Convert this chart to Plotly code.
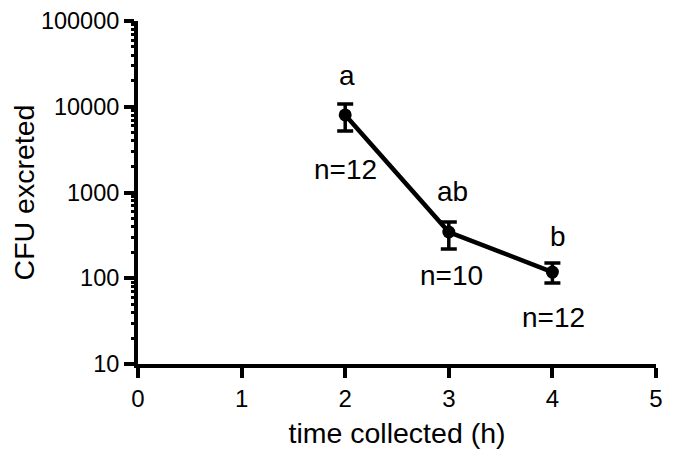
import math
import plotly.graph_objects as go

# Data
time_h = [2, 3, 4]
cfu_mean = [8020, 346, 118]
cfu_upper = [10770, 453, 151]
cfu_lower = [5210, 219, 88]
sig_labels = ["a", "ab", "b"]
n_labels = ["n=12", "n=10", "n=12"]
y_tick_vals = [10, 100, 1000, 10000, 100000]
y_tick_text = ["10", "100", "1000", "10000", "100000"]
x_tick_vals = [0, 1, 2, 3, 4, 5]
y_minor_vals = [d * 10 ** k for k in range(1, 5) for d in range(2, 10)]

err_plus = [u - m for u, m in zip(cfu_upper, cfu_mean)]
err_minus = [m - l for m, l in zip(cfu_mean, cfu_lower)]

FONT = "Liberation Sans, Arial, Helvetica, sans-serif"

fig = go.Figure()
# invisible helper trace on the overlay axis that carries the minor ticks
fig.add_trace(go.Scatter(
    x=time_h, y=cfu_mean, yaxis="y2", mode="markers",
    marker=dict(opacity=0), hoverinfo="skip", showlegend=False,
))
fig.add_trace(go.Scatter(
    x=time_h, y=cfu_mean, mode="lines+markers",
    line=dict(color="black", width=4.5),
    marker=dict(color="black", size=13),
    error_y=dict(type="data", symmetric=False, array=err_plus, arrayminus=err_minus,
                 color="black", thickness=3.5, width=8),
    showlegend=False,
))

# significance letters above the upper caps, n labels below the lower caps (pixel offsets)
sig_shift = [(2, 28), (4, 30), (6, 26)]
n_shift = [(0, -38), (3, -26), (1, -34)]
for i, x in enumerate(time_h):
    fig.add_annotation(x=x, y=math.log10(cfu_upper[i]), xref="x", yref="y", text=sig_labels[i],
                       showarrow=False, yanchor="middle", xanchor="center",
                       xshift=sig_shift[i][0], yshift=sig_shift[i][1],
                       font=dict(family=FONT, size=28, color="black"))
    fig.add_annotation(x=x, y=math.log10(cfu_lower[i]), xref="x", yref="y", text=n_labels[i],
                       showarrow=False, yanchor="middle", xanchor="center",
                       xshift=n_shift[i][0], yshift=n_shift[i][1],
                       font=dict(family=FONT, size=28, color="black"))

fig.update_layout(
    width=674, height=457,
    margin=dict(l=130, r=26, t=13, b=101),
    paper_bgcolor="white", plot_bgcolor="white",
    font=dict(family=FONT, color="black"),
    xaxis=dict(
        range=[0, 5], tickvals=x_tick_vals, showline=True, linecolor="black", linewidth=4,
        ticks="outside", ticklen=10, tickwidth=4, tickcolor="black",
        showgrid=False, zeroline=False, automargin=False,
        tickfont=dict(family=FONT, size=24, color="black"),
        title=dict(text="time collected (h)", font=dict(family=FONT, size=28.5, color="black"), standoff=13),
    ),
    yaxis=dict(
        type="log", range=[1, 5], tickvals=y_tick_vals, ticktext=y_tick_text,
        showline=True, linecolor="black", linewidth=4,
        ticks="outside", ticklen=10, tickwidth=4, tickcolor="black",
        showgrid=False, zeroline=False, automargin=False,
        tickfont=dict(family=FONT, size=23.5, color="black"),
        title=dict(text="CFU excreted", font=dict(family=FONT, size=28.5, color="black"), standoff=3),
    ),
    yaxis2=dict(
        type="log", range=[1, 5], overlaying="y", side="left", tickvals=y_minor_vals,
        showticklabels=False, showline=False, ticks="outside", ticklen=6, tickwidth=3,
        tickcolor="black", showgrid=False, zeroline=False, automargin=False,
    ),
)

fig.write_html("out.html")
